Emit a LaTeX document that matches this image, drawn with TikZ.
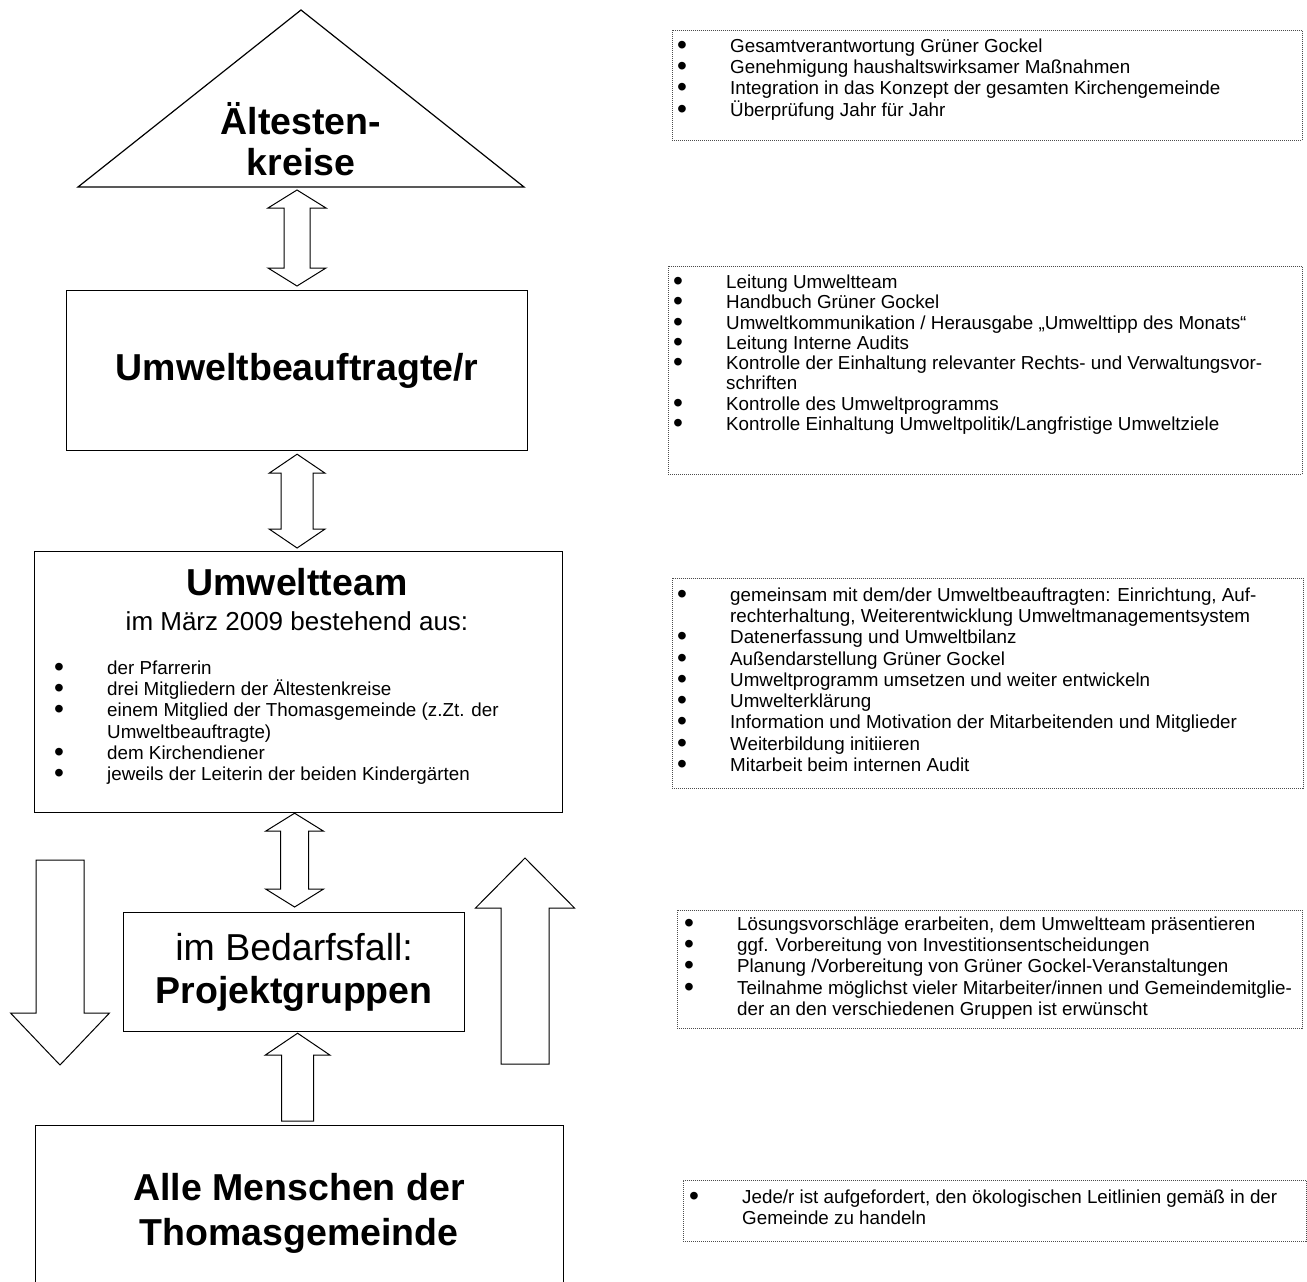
\documentclass[tikz,border=0pt]{standalone}
\usepackage{fontspec}
\setmainfont{Liberation Sans}
\usepackage{graphicx}
\usepackage{tikz}
\usetikzlibrary{calc}
\newcommand{\listbul}{\makebox[50pt][l]{\hspace*{-3pt}\raisebox{-2pt}{\scalebox{1.5}{•}}}}
\newcommand{\listind}{\hspace*{50pt}}
\newcommand{\listfont}{\fontsize{18.8}{21.3}\selectfont\setlength{\lineskiplimit}{-40pt}}
\newcommand{\tightfont}{\fontsize{18.8}{20.3}\selectfont\setlength{\lineskiplimit}{-40pt}}
\newcommand{\dblarrow}[5]{%
  \draw[blockarrow] let \p1=(#1), \p2=(#2) in
    (\x1,\y1) -- ({\x1+#4pt},{\y1-#5pt}) -- ({\x1+#3pt},{\y1-#5pt}) -- ({\x1+#3pt},{\y2+#5pt})
    -- ({\x1+#4pt},{\y2+#5pt}) -- (\x1,\y2) -- ({\x1-#4pt},{\y2+#5pt}) -- ({\x1-#3pt},{\y2+#5pt})
    -- ({\x1-#3pt},{\y1-#5pt}) -- ({\x1-#4pt},{\y1-#5pt}) -- cycle;}
\newcommand{\uparr}[5]{%
  \draw[blockarrow] let \p1=(#1), \p2=(#2) in
    (\x1,\y1) -- ({\x1+#4pt},{\y1-#5pt}) -- ({\x1+#3pt},{\y1-#5pt}) -- ({\x1+#3pt},\y2)
    -- ({\x1-#3pt},\y2) -- ({\x1-#3pt},{\y1-#5pt}) -- ({\x1-#4pt},{\y1-#5pt}) -- cycle;}
\newcommand{\downarr}[5]{%
  \draw[blockarrow] let \p1=(#1), \p2=(#2) in
    (\x1,\y1) -- ({\x1+#4pt},{\y1+#5pt}) -- ({\x1+#3pt},{\y1+#5pt}) -- ({\x1+#3pt},\y2)
    -- ({\x1-#3pt},\y2) -- ({\x1-#3pt},{\y1+#5pt}) -- ({\x1-#4pt},{\y1+#5pt}) -- cycle;}

\begin{document}
\begin{tikzpicture}[x=1pt,y=1pt]
                \tikzstyle{every node}+=[inner sep=0pt]
                \tikzstyle{orgbox}=[draw=black, line width=1.2pt, anchor=north west]
                \tikzstyle{listbox}=[draw=black!70, line width=0.8pt, dash pattern=on 1pt off 1pt, anchor=north west]
                \tikzstyle{listtext}=[anchor=north west, align=left, font=\listfont]
                \tikzstyle{tightlist}=[anchor=north west, align=left, font=\tightfont]
                \tikzstyle{titletext}=[anchor=base, font=\fontsize{37.5}{43}\selectfont\bfseries]
                \tikzstyle{subtext}=[anchor=base, font=\fontsize{26}{30}\selectfont]
                \tikzstyle{blockarrow}=[draw=black, line width=1pt, fill=white]
                \useasboundingbox (0,0) rectangle (1307,-1282);
                \clip (0,0) rectangle (1307,-1282);
                \coordinate (trileft) at (78,-187);
                \coordinate (triright) at (524,-187);
                \coordinate (triapex) at (301,-10);
                \coordinate (tribase) at (297,-187);
                \draw [black, line width=1.2pt] (trileft) -- (triapex) -- (triright) -- cycle;
                \node [titletext] (aeltesten) at (301,-134) {Ältesten-};
                \node [titletext] (kreise) at (301,-175) {kreise};
                \node [orgbox, minimum width=461pt, minimum height=160pt, font=\fontsize{37.5}{43}\selectfont\bfseries] (beauftragte) at (66,-290) {Umweltbeauftragte/r};
                \node [orgbox, minimum width=528pt, minimum height=261pt] (team) at (34,-551) {};
                \node [titletext] (teamtitle) at (297,-595) {Umweltteam};
                \node [subtext] (teamsub) at (297,-630) {im März 2009 bestehend aus:};
                \node [listtext] (teamlist) at (57,-659) {\strut\listbul der Pfarrerin\\
                  \listbul drei Mitgliedern der Ältestenkreise\\
                  \listbul einem Mitglied der Thomasgemeinde (z.Zt. der\\
                  \listind Umweltbeauftragte)\\
                  \listbul dem Kirchendiener\\
                  \listbul jeweils der Leiterin der beiden Kindergärten};
                \node [orgbox, minimum width=341pt, minimum height=119pt, align=center, font=\fontsize{37.5}{43}\selectfont] (projekt) at (123,-912) {im Bedarfsfall:\\\textbf{Projektgruppen}};
                \node [orgbox, minimum width=528pt, minimum height=170pt] (alle) at (35,-1125) {};
                \node [titletext] (alletext) at (299,-1200) {Alle Menschen der};
                \node [titletext] (thomas) at (299,-1245) {Thomasgemeinde};
                \dblarrow{[yshift=-3pt]tribase}{[yshift=4pt]beauftragte.north}{13}{29}{18}
                \dblarrow{[yshift=-3pt]beauftragte.south}{[yshift=3pt]team.north}{16}{28}{19}
                \dblarrow{[xshift=-4pt]team.south}{[yshift=5pt]projekt.north}{14}{29}{18}
                \uparr{[xshift=3.5pt,yshift=-1pt]projekt.south}{[yshift=4pt]alle.north}{16}{32.5}{22}
                \coordinate (downtip) at (60,-1065);
                \coordinate (downtail) at (60,-860);
                \coordinate (uptip) at (525,-858);
                \coordinate (uptail) at (525,-1064);
                \downarr{downtip}{downtail}{24}{49.5}{52}
                \uparr{uptip}{uptail}{24}{49.5}{50}
                \node [listbox, minimum width=630pt, minimum height=110pt] (verantwortung) at (672,-30) {};
                \node [listtext] (verantwortungtext) at (680,-37) {\strut\listbul Gesamtverantwortung Grüner Gockel\\
                  \listbul Genehmigung haushaltswirksamer Maßnahmen\\
                  \listbul Integration in das Konzept der gesamten Kirchengemeinde\\
                  \listbul Überprüfung Jahr für Jahr};
                \node [listbox, minimum width=634pt, minimum height=208pt] (leitung) at (668,-266) {};
                \node [tightlist] (leitungtext) at (676,-274) {\strut\listbul Leitung Umweltteam\\
                  \listbul Handbuch Grüner Gockel\\
                  \listbul Umweltkommunikation / Herausgabe „Umwelttipp des Monats“\\
                  \listbul Leitung Interne Audits\\
                  \listbul Kontrolle der Einhaltung relevanter Rechts- und Verwaltungsvor-\\
                  \listind schriften\\
                  \listbul Kontrolle des Umweltprogramms\\
                  \listbul Kontrolle Einhaltung Umweltpolitik/Langfristige Umweltziele};
                \node [listbox, minimum width=631pt, minimum height=210pt] (teamaufgaben) at (672,-578) {};
                \node [listtext] (teamaufgabentext) at (680,-586) {\strut\listbul gemeinsam mit dem/der Umweltbeauftragten: Einrichtung, Auf-\\
                  \listind rechterhaltung, Weiterentwicklung Umweltmanagementsystem\\
                  \listbul Datenerfassung und Umweltbilanz\\
                  \listbul Außendarstellung Grüner Gockel\\
                  \listbul Umweltprogramm umsetzen und weiter entwickeln\\
                  \listbul Umwelterklärung\\
                  \listbul Information und Motivation der Mitarbeitenden und Mitglieder\\
                  \listbul Weiterbildung initiieren\\
                  \listbul Mitarbeit beim internen Audit};
                \node [listbox, minimum width=625pt, minimum height=118pt] (gruppen) at (677,-910) {};
                \node [listtext] (gruppentext) at (687,-915) {\strut\listbul Lösungsvorschläge erarbeiten, dem Umweltteam präsentieren\\
                  \listbul ggf. Vorbereitung von Investitionsentscheidungen\\
                  \listbul Planung /Vorbereitung von Grüner Gockel-Veranstaltungen\\
                  \listbul Teilnahme möglichst vieler Mitarbeiter/innen und Gemeindemitglie-\\
                  \listind der an den verschiedenen Gruppen ist erwünscht};
                \node [listbox, minimum width=623pt, minimum height=61pt] (alleaufgabe) at (683,-1180) {};
                \node [listtext] (alleaufgabetext) at (692,-1188) {\strut\listbul Jede/r ist aufgefordert, den ökologischen Leitlinien gemäß in der\\
                  \listind Gemeinde zu handeln};
            \end{tikzpicture}
\end{document}
